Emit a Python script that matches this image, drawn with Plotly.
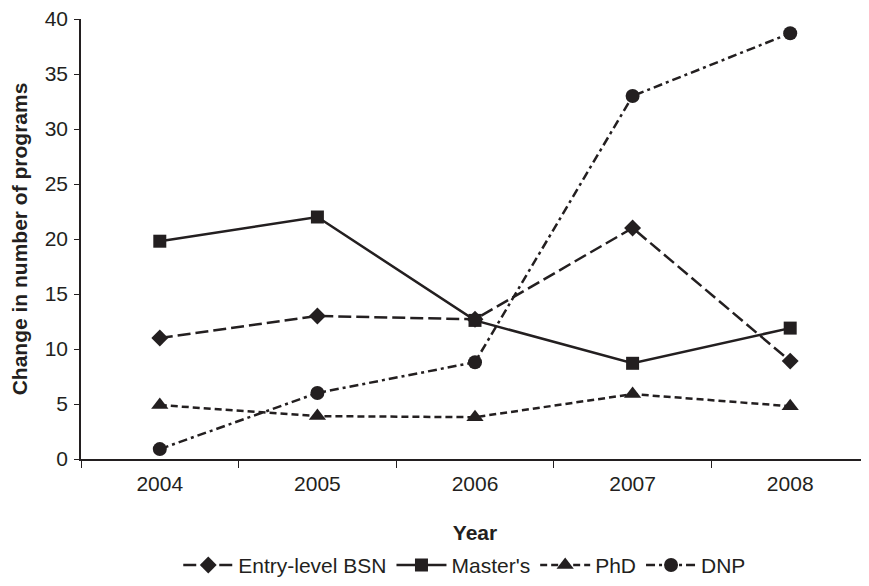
import plotly.graph_objects as go

years = ["2004", "2005", "2006", "2007", "2008"]
bsn = [11, 13, 12.7, 21, 8.9]
masters = [19.8, 22, 12.6, 8.7, 11.9]
phd = [4.9, 3.9, 3.8, 5.9, 4.8]
dnp = [0.9, 6.0, 8.8, 33.0, 38.7]

ink = "#231f20"
font_family = "Liberation Sans, Arial, sans-serif"
fs = 21

series = [
    ("Entry-level BSN", bsn, "13px,5px", "diamond", 13),
    ("Master's", masters, "solid", "square", 13),
    ("PhD", phd, "7px,4px", "triangle-up", 15),
    ("DNP", dnp, "9px,4px,3px,4px", "circle", 14),
]

fig = go.Figure()
for name, vals, dash, sym, size in series:
    fig.add_trace(go.Scatter(
        x=years, y=vals, name=name, mode="lines+markers",
        line=dict(color=ink, width=2.5, dash=dash),
        marker=dict(symbol=sym, size=size, color=ink),
    ))

fig.update_layout(
    width=861, height=578,
    margin=dict(l=73, r=0, t=11, b=123),
    paper_bgcolor="white", plot_bgcolor="white",
    font=dict(family=font_family, size=fs, color=ink),
    showlegend=True,
    legend=dict(orientation="h", x=0.487, xanchor="center", y=-0.195, yanchor="top",
                font=dict(size=fs), itemwidth=50, tracegroupgap=0),
    xaxis=dict(
        type="category", range=[-0.5, 4.5], tickson="boundaries",
        showline=True, linecolor=ink, linewidth=1.5,
        ticks="outside", ticklen=7, tickcolor=ink, tickwidth=1,
        showgrid=False, zeroline=False, automargin=False,
        tickfont=dict(size=fs), ticklabelstandoff=5,
        title=dict(text="<b>Year</b>", font=dict(size=fs), standoff=31),
    ),
    yaxis=dict(
        range=[0, 40], dtick=5,
        showline=True, linecolor=ink, linewidth=1.5,
        ticks="outside", ticklen=5, tickcolor=ink, tickwidth=1,
        showgrid=False, zeroline=False, automargin=False,
        tickfont=dict(size=fs), ticklabelstandoff=2, ticklabeloverflow="allow",
        title=dict(text="<b>Change in number of programs</b>", font=dict(size=fs), standoff=14),
    ),
)

fig.write_html("out.html")
